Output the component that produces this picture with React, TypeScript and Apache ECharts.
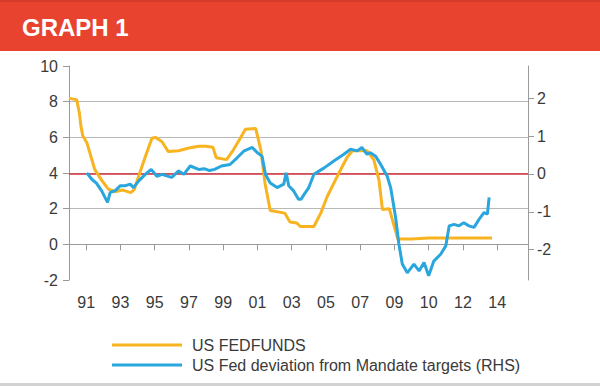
import React, { useEffect, useRef } from "react";
import * as echarts from "echarts";

const title = "GRAPH 1";
const seriesNames = ["US FEDFUNDS", "US Fed deviation from Mandate targets (RHS)"];

const xTickYears = [1991, 1993, 1995, 1997, 1999, 2001, 2003, 2005, 2007, 2009, 2011, 2013, 2015];
const xTickLabels = ["91", "93", "95", "97", "99", "01", "03", "05", "07", "09", "10", "12", "14"];
const rightTicks = [-2, -1, 0, 1, 2];
const zeroDeviation = 0;

// US FEDFUNDS (left axis, %)
const fedYears = [
  1990.0, 1990.45, 1990.6, 1990.7, 1990.8, 1991.04, 1991.23, 1991.5, 1991.9, 1992.3, 1992.7,
  1993.1, 1993.6, 1993.8, 1994.06, 1994.45, 1994.84, 1995.04, 1995.43, 1995.8, 1996.4,
  1997.0, 1997.57, 1998.0, 1998.4, 1998.6, 1999.2, 1999.6, 2000.0, 2000.3, 2000.9,
  2001.2, 2001.45, 2001.75, 2002.6, 2002.9, 2003.3, 2003.5, 2004.3, 2004.7, 2005.07,
  2005.45, 2005.85, 2006.25, 2006.55, 2007.4, 2007.8, 2008.1, 2008.3, 2008.7, 2009.2,
  2010.0, 2011.0, 2014.7,
];
const fedValues = [
  8.2, 8.1, 7.4, 6.6, 6.1, 5.7, 5.1, 4.2, 3.6, 3.1, 2.95,
  3.05, 2.9, 3.05, 3.8, 4.9, 5.95, 6.0, 5.75, 5.2, 5.25,
  5.4, 5.5, 5.5, 5.45, 4.85, 4.75, 5.3, 5.95, 6.45, 6.5,
  5.3, 3.4, 1.9, 1.75, 1.25, 1.2, 1.0, 1.0, 1.75, 2.67,
  3.4, 4.17, 4.9, 5.25, 5.25, 4.73, 3.6, 1.95, 2.0, 0.3,
  0.3, 0.35, 0.35,
];

// US Fed deviation from mandate targets (right axis)
const devYears = [
  1991.04, 1991.33, 1991.6, 1991.9, 1992.1, 1992.25, 1992.4, 1992.7, 1993.0, 1993.3,
  1993.57, 1993.77, 1994.06, 1994.45, 1994.8, 1995.13, 1995.43, 1995.7, 1996.0, 1996.4,
  1996.7, 1997.08, 1997.57, 1997.9, 1998.2, 1998.5, 1998.9, 1999.4, 1999.8, 2000.2,
  2000.5, 2000.7, 2001.0, 2001.27, 2001.47, 2001.75, 2002.15, 2002.54, 2002.68, 2002.83,
  2003.1, 2003.4, 2003.55, 2003.7, 2004.0, 2004.3, 2004.9, 2005.46, 2006.05, 2006.44,
  2006.83, 2007.1, 2007.4, 2007.6, 2007.9, 2008.2, 2008.58, 2008.78, 2009.07, 2009.26,
  2009.46, 2009.75, 2010.14, 2010.44, 2010.73, 2011.0, 2011.3, 2011.7, 2012.0, 2012.2,
  2012.48, 2012.77, 2013.05, 2013.35, 2013.65, 2013.94, 2014.23, 2014.43, 2014.53,
];
const devValues = [
  0.03, -0.14, -0.24, -0.44, -0.62, -0.75, -0.49, -0.44, -0.31, -0.31,
  -0.27, -0.36, -0.19, -0.01, 0.12, -0.06, -0.01, -0.05, -0.09, 0.08,
  -0.01, 0.21, 0.12, 0.14, 0.09, 0.12, 0.21, 0.25, 0.42, 0.6,
  0.66, 0.7, 0.56, 0.47, -0.01, -0.24, -0.36, -0.27, 0.03, -0.31,
  -0.44, -0.67, -0.67, -0.56, -0.36, -0.01, 0.16, 0.34, 0.52, 0.65,
  0.61, 0.7, 0.52, 0.56, 0.47, 0.25, -0.06, -0.36, -1.15, -1.85,
  -2.38, -2.61, -2.38, -2.56, -2.34, -2.69, -2.3, -2.12, -1.9, -1.37,
  -1.33, -1.37, -1.29, -1.37, -1.41, -1.2, -1.02, -1.06, -0.62,
];

const FONT = "'Liberation Sans', Arial, sans-serif";

export default function App() {
  const ref = useRef<HTMLDivElement>(null);
  useEffect(() => {
    if (!ref.current) return;
    const chart = echarts.init(ref.current, undefined, { renderer: "svg" });
    const fedData = fedYears.map((y, i) => [y, fedValues[i]]);
    const devData = devYears.map((y, i) => [y, devValues[i]]);
    chart.setOption({
      animation: false,
      backgroundColor: "#ffffff",
      textStyle: { fontFamily: FONT },
      graphic: [
        { type: "rect", left: 0, top: 0, shape: { width: 600, height: 51 }, style: { fill: "#e8432f" }, z: 0 },
        { type: "rect", left: 0, top: 0, shape: { width: 600, height: 2 }, style: { fill: "#d63a28" }, z: 1 },
        {
          type: "text",
          x: 22,
          y: 27,
          style: {
            text: title,
            fill: "#ffffff",
            font: `bold 24px ${FONT}`,
            verticalAlign: "middle",
          },
          z: 2,
        },
        { type: "rect", left: 0, top: 383, shape: { width: 600, height: 3 }, style: { fill: "#d2d2d2" }, z: 0 },
      ],
      grid: { left: 69, right: 72, top: 66, bottom: 106, containLabel: false },
      legend: {
        orient: "vertical",
        left: 107,
        top: 332,
        itemWidth: 70,
        itemHeight: 3,
        itemGap: 4,
        icon: "rect",
        textStyle: { fontFamily: FONT, fontSize: 16, color: "#3a3a3a", padding: [0, 0, 0, 5] },
        data: seriesNames,
      },
      xAxis: {
        type: "value",
        min: 1990,
        max: 2016.8,
        axisLine: { show: true, lineStyle: { color: "#9a9a9a", width: 1 } },
        axisTick: { show: true, length: 6, customValues: xTickYears, lineStyle: { color: "#9a9a9a" } },
        axisLabel: {
          customValues: xTickYears,
          formatter: (v: number) => {
            const i = xTickYears.indexOf(Math.round(v));
            return i >= 0 ? xTickLabels[i] : "";
          },
          fontSize: 16,
          color: "#3a3a3a",
          fontFamily: FONT,
          margin: 14,
        },
        splitLine: { show: false },
      },
      yAxis: [
        {
          type: "value",
          min: -2,
          max: 10,
          interval: 2,
          axisLine: { show: true, lineStyle: { color: "#9a9a9a", width: 1 } },
          axisTick: { show: true, length: 6, lineStyle: { color: "#9a9a9a" } },
          axisLabel: { fontSize: 16, color: "#3a3a3a", fontFamily: FONT, margin: 11 },
          splitLine: {
            show: true,
            showMinLine: false,
            showMaxLine: false,
            lineStyle: { color: "#b8b8b8", width: 1 },
          },
        },
        {
          type: "value",
          position: "right",
          min: -2.8,
          max: 2.85,
          alignTicks: false,
          axisLine: { show: true, lineStyle: { color: "#9a9a9a", width: 1 } },
          axisTick: { show: true, length: 6, customValues: rightTicks, lineStyle: { color: "#9a9a9a" } },
          axisLabel: { customValues: rightTicks, fontSize: 16, color: "#3a3a3a", fontFamily: FONT, margin: 9 },
          splitLine: { show: false },
        },
      ],
      series: [
        {
          name: seriesNames[0],
          type: "line",
          yAxisIndex: 0,
          data: fedData,
          showSymbol: false,
          symbol: "none",
          color: "#f7b320",
          lineStyle: { width: 3, color: "#f7b320" },
          z: 3,
        },
        {
          name: seriesNames[1],
          type: "line",
          yAxisIndex: 1,
          data: devData,
          showSymbol: false,
          symbol: "none",
          color: "#2aa6de",
          lineStyle: { width: 3, color: "#2aa6de" },
          z: 4,
          markLine: {
            silent: true,
            symbol: "none",
            label: { show: false },
            emphasis: { disabled: true },
            lineStyle: { color: "#d03038", width: 1.5, type: "solid", opacity: 1 },
            data: [{ yAxis: zeroDeviation }],
            z: 1,
          },
        },
      ],
    });
    return () => chart.dispose();
  }, []);
  return (
    <div
      ref={ref}
      style={{ position: "absolute", left: 0, top: 0, width: 600, height: 386 }}
    />
  );
}
